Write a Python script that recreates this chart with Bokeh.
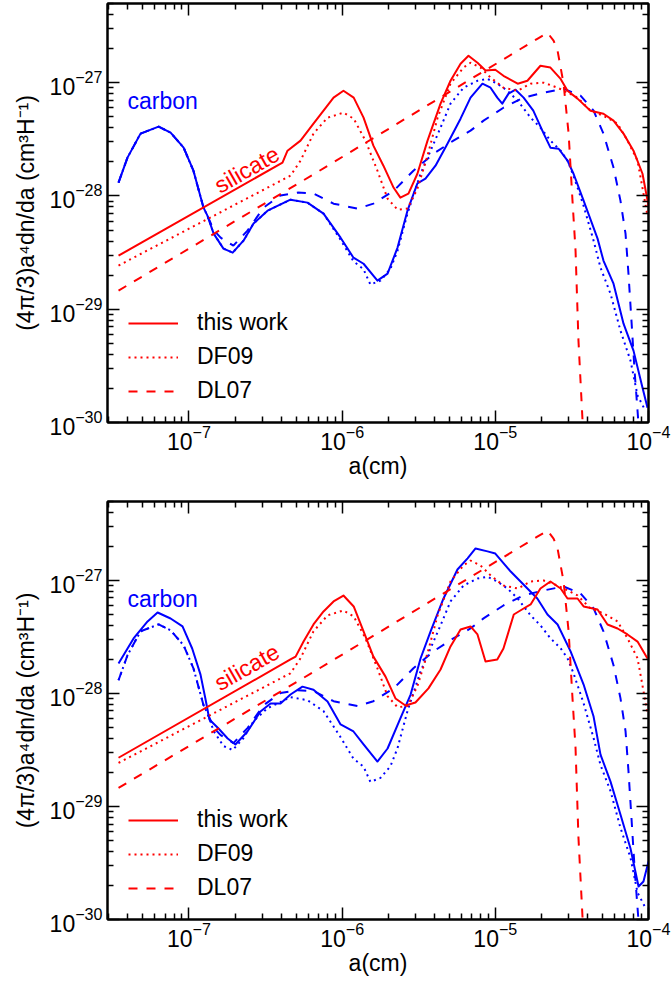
from bokeh.plotting import figure
from bokeh.layouts import column
from bokeh.models import (Range1d, LogAxis, FixedTicker, CustomJSTickFormatter,
                          Legend, LegendItem, Label)
from bokeh.embed import file_html
from bokeh.resources import INLINE

# ---------------- axis ticks ----------------
X_LO, X_HI = 2.94e-8, 1e-4
Y_LO, Y_HI = 1e-30, 5e-27
X_MAJOR = [1e-7, 1e-6, 1e-5, 1e-4]
X_MINOR = [k * 10.0 ** e for e in (-8, -7, -6, -5) for k in range(2, 10)
           if X_LO <= k * 10.0 ** e <= X_HI]
Y_MAJOR = [1e-30, 1e-29, 1e-28, 1e-27]
Y_MINOR = [k * 10.0 ** e for e in (-30, -29, -28, -27) for k in range(2, 10)
           if k * 10.0 ** e <= Y_HI]

LEGEND_LABELS = ["this work", "DF09", "DL07"]

# ---------------- DF09 (dotted), same in both panels ----------------
df09_car_a = [3.47e-8, 3.97e-8, 4.83e-8, 6.34e-8, 7.59e-8, 9.23e-8, 1.07e-7, 1.245e-7, 1.32e-7, 1.45e-7,
              1.68e-7, 1.93e-7, 2.27e-7, 2.64e-7, 3.26e-7, 4.60e-7, 5.94e-7, 7.56e-7, 9.77e-7, 1.186e-6,
              1.38e-6, 1.53e-6, 1.78e-6, 2.07e-6, 2.30e-6, 2.67e-6, 3.25e-6, 3.78e-6, 4.39e-6, 5.10e-6,
              6.20e-6, 7.65e-6, 8.89e-6, 1.03e-5, 1.20e-5, 1.40e-5, 1.70e-5, 1.97e-5, 2.29e-5, 2.67e-5,
              2.96e-5, 3.24e-5, 3.77e-5, 4.38e-5, 4.86e-5, 5.65e-5, 6.56e-5, 7.63e-5, 8.48e-5, 9.55e-5]
df09_car_y = [1.31e-28, 2.18e-28, 3.55e-28, 4.09e-28, 3.62e-28, 2.67e-28, 1.67e-28, 7.88e-29, 6.70e-29, 4.65e-29,
              3.43e-29, 3.16e-29, 4.03e-29, 5.70e-29, 7.41e-29, 9.27e-29, 8.73e-29, 6.98e-29, 4.10e-29, 2.65e-29,
              2.25e-29, 1.65e-29, 1.79e-29, 2.28e-29, 3.29e-29, 6.98e-29, 1.57e-28, 2.51e-28, 4.01e-28, 6.53e-28,
              9.03e-28, 1.04e-27, 1.08e-27, 9.80e-28, 8.49e-28, 6.93e-28, 4.91e-28, 4.01e-28, 3.08e-28, 2.51e-28,
              2.05e-28, 1.51e-28, 8.20e-29, 4.03e-29, 2.33e-29, 1.37e-29, 6.47e-30, 3.52e-30, 1.73e-30, 1.27e-30]

df09_sil_a = [3.47e-8, 4.60e-7, 5.35e-7, 6.50e-7, 8.03e-7, 1.02e-6, 1.19e-6, 1.42e-6, 1.70e-6, 1.98e-6,
              2.30e-6, 2.67e-6, 3.10e-6, 3.61e-6, 4.20e-6, 5.10e-6, 6.20e-6, 6.89e-6, 8.00e-6, 9.31e-6,
              1.13e-5, 1.40e-5, 1.70e-5, 2.07e-5, 2.55e-5, 2.96e-5, 3.44e-5, 4.18e-5, 5.08e-5, 6.28e-5,
              7.29e-5, 8.48e-5, 9.85e-5]
df09_sil_y = [2.43e-29, 1.51e-28, 2.05e-28, 3.55e-28, 4.91e-28, 5.43e-28, 4.81e-28, 3.08e-28, 1.67e-28, 9.46e-29,
              7.57e-29, 7.73e-29, 1.16e-28, 2.27e-28, 4.91e-28, 9.80e-28, 1.36e-27, 1.50e-27, 1.36e-27, 1.11e-27,
              9.03e-28, 8.49e-28, 9.80e-28, 1.0e-27, 9.03e-28, 8.17e-28, 7.38e-28, 5.66e-28, 5.11e-28, 4.35e-28,
              3.08e-28, 2.05e-28, 6.70e-29]

# ---------------- DL07 (dashed), same in both panels ----------------
dl07_car_a = [3.47e-8, 3.97e-8, 4.83e-8, 6.34e-8, 7.59e-8, 9.23e-8, 1.07e-7, 1.245e-7, 1.32e-7, 1.45e-7,
              1.61e-7, 1.95e-7, 2.41e-7, 3.07e-7, 3.96e-7, 5.12e-7, 6.50e-7, 8.79e-7, 1.26e-6, 1.60e-6,
              2.17e-6, 2.92e-6, 3.95e-6, 5.33e-6, 6.89e-6, 8.38e-6, 1.13e-5, 1.53e-5, 2.07e-5, 2.79e-5,
              3.60e-5, 4.38e-5, 5.08e-5, 5.91e-5, 6.56e-5, 7.08e-5, 7.40e-5, 7.74e-5, 8.11e-5, 8.48e-5, 8.7e-5]
dl07_car_y = [1.31e-28, 2.18e-28, 3.55e-28, 4.09e-28, 3.62e-28, 2.67e-28, 1.67e-28, 7.88e-29, 6.70e-29, 5.0e-29,
              4.28e-29, 3.64e-29, 4.94e-29, 7.88e-29, 1.01e-28, 1.07e-28, 1.05e-28, 8.55e-29, 7.73e-29, 8.55e-29,
              1.11e-28, 1.67e-28, 2.36e-28, 3.08e-28, 3.77e-28, 4.62e-28, 6.01e-28, 7.38e-28, 8.17e-28, 8.85e-28,
              7.68e-28, 5.66e-28, 3.55e-28, 1.78e-28, 9.10e-29, 4.65e-29, 2.06e-29, 7.94e-30, 2.87e-30, 1.27e-30, 8e-31]

dl07_sil_a = [3.47e-8, 6.50e-7, 1.88e-5, 2.19e-5, 2.40e-5, 2.55e-5, 2.79e-5, 3.01e-5, 3.19e-5, 3.34e-5,
              3.49e-5, 3.71e-5, 3.77e-5]
dl07_sil_y = [1.46e-29, 1.55e-28, 2.44e-27, 2.76e-27, 2.35e-27, 1.91e-27, 9.80e-28, 3.55e-28, 9.10e-29, 3.29e-29,
              5.28e-30, 1.04e-30, 7e-31]

# ---------------- this work, upper panel ----------------
top_car_a = [3.47e-8, 3.97e-8, 4.83e-8, 6.34e-8, 7.59e-8, 9.23e-8, 1.07e-7, 1.245e-7, 1.32e-7, 1.45e-7,
             1.68e-7, 1.93e-7, 2.27e-7, 2.64e-7, 3.26e-7, 4.60e-7, 5.94e-7, 7.56e-7, 9.77e-7, 1.186e-6,
             1.38e-6, 1.70e-6, 1.98e-6, 2.30e-6, 2.67e-6, 3.10e-6, 3.50e-6, 4.07e-6, 4.88e-6, 5.93e-6,
             6.89e-6, 8.24e-6, 9.31e-6, 1.03e-5, 1.11e-5, 1.22e-5, 1.355e-5, 1.53e-5, 1.77e-5, 2.07e-5,
             2.29e-5, 2.59e-5, 2.96e-5, 3.24e-5, 3.77e-5, 4.65e-5, 5.08e-5, 5.91e-5, 6.87e-5, 7.98e-5,
             9.14e-5, 9.85e-5]
top_car_y = [1.31e-28, 2.18e-28, 3.55e-28, 4.09e-28, 3.62e-28, 2.67e-28, 1.67e-28, 7.88e-29, 6.70e-29, 4.65e-29,
             3.43e-29, 3.16e-29, 4.03e-29, 5.70e-29, 7.41e-29, 9.27e-29, 8.73e-29, 6.98e-29, 4.28e-29, 2.85e-29,
             2.52e-29, 1.79e-29, 2.06e-29, 3.50e-29, 7.41e-29, 1.29e-28, 1.42e-28, 1.85e-28, 2.90e-28, 4.81e-28,
             7.38e-28, 9.80e-28, 9.03e-28, 7.38e-28, 6.53e-28, 8.00e-28, 8.67e-28, 7.38e-28, 5.66e-28, 3.55e-28,
             2.67e-28, 2.61e-28, 2.05e-28, 1.57e-28, 9.10e-29, 4.20e-29, 2.69e-29, 1.68e-29, 7.46e-30, 4.31e-30,
             2.03e-30, 1.35e-30]

top_sil_a = [3.47e-8, 4.08e-7, 4.40e-7, 5.35e-7, 6.50e-7, 7.56e-7, 8.79e-7, 1.02e-6, 1.19e-6, 1.38e-6,
             1.60e-6, 1.86e-6, 2.17e-6, 2.40e-6, 2.71e-6, 3.10e-6, 3.61e-6, 4.39e-6, 5.10e-6, 5.93e-6,
             6.68e-6, 7.65e-6, 8.63e-6, 1.00e-5, 1.13e-5, 1.40e-5, 1.62e-5, 1.97e-5, 2.29e-5, 2.67e-5,
             2.96e-5, 3.44e-5, 4.18e-5, 5.08e-5, 5.91e-5, 6.87e-5, 7.98e-5, 9.14e-5, 1.0e-4]
top_sil_y = [2.97e-29, 1.97e-28, 2.51e-28, 3.08e-28, 4.35e-28, 5.66e-28, 7.38e-28, 8.49e-28, 7.38e-28, 4.91e-28,
             2.78e-28, 1.85e-28, 1.18e-28, 9.66e-29, 1.05e-28, 1.57e-28, 3.08e-28, 6.53e-28, 1.04e-27, 1.47e-27,
             1.73e-27, 1.50e-27, 1.28e-27, 1.30e-27, 1.15e-27, 9.80e-28, 1.04e-27, 1.41e-27, 1.36e-27, 1.08e-27,
             8.49e-28, 7.23e-28, 5.66e-28, 5.32e-28, 4.62e-28, 3.55e-28, 2.51e-28, 1.57e-28, 8.20e-29]

# ---------------- this work, lower panel ----------------
bot_car_a = [3.47e-8, 4.35e-8, 5.37e-8, 6.24e-8, 7.59e-8, 9.08e-8, 1.05e-7, 1.19e-7, 1.28e-7, 1.36e-7,
             1.56e-7, 1.79e-7, 2.01e-7, 2.41e-7, 2.93e-7, 3.41e-7, 3.96e-7, 4.60e-7, 5.51e-7, 6.50e-7,
             8.03e-7, 9.77e-7, 1.186e-6, 1.38e-6, 1.70e-6, 1.98e-6, 2.40e-6, 2.80e-6, 3.25e-6, 3.78e-6,
             4.59e-6, 5.66e-6, 6.59e-6, 7.43e-6, 8.89e-6, 1.00e-5, 1.26e-5, 1.62e-5, 1.88e-5, 2.19e-5,
             2.55e-5, 3.10e-5, 3.77e-5, 4.38e-5, 4.86e-5, 5.65e-5, 6.56e-5, 7.63e-5, 8.61e-5, 9.27e-5, 1.0e-4]
bot_car_y = [1.84e-28, 3.07e-28, 4.34e-28, 5.21e-28, 4.61e-28, 3.92e-28, 2.50e-28, 1.47e-28, 9.04e-29, 5.89e-29,
             4.90e-29, 4.00e-29, 3.54e-29, 4.61e-29, 6.93e-29, 8.16e-29, 8.16e-29, 9.79e-29, 1.15e-28, 1.08e-28,
             8.49e-29, 5.32e-29, 4.61e-29, 3.54e-29, 2.50e-29, 3.26e-29, 6.01e-29, 9.79e-29, 2.04e-28, 3.54e-28,
             6.93e-28, 1.25e-27, 1.57e-27, 1.92e-27, 1.81e-27, 1.73e-27, 1.20e-27, 8.49e-28, 6.93e-28, 5.00e-28,
             4.08e-28, 2.36e-28, 1.20e-28, 6.25e-29, 2.88e-29, 1.66e-29, 8.49e-30, 4.25e-30, 1.96e-30, 2.17e-30, 3.26e-30]

bot_sil_a = [3.47e-8, 4.60e-7, 4.97e-7, 5.60e-7, 6.50e-7, 7.56e-7, 8.79e-7, 1.02e-6, 1.19e-6, 1.38e-6,
             1.60e-6, 1.92e-6, 2.23e-6, 2.59e-6, 3.01e-6, 3.66e-6, 4.39e-6, 5.10e-6, 5.93e-6, 6.89e-6,
             7.65e-6, 8.63e-6, 1.03e-5, 1.13e-5, 1.32e-5, 1.53e-5, 1.70e-5, 1.97e-5, 2.29e-5, 2.67e-5,
             2.96e-5, 3.44e-5, 3.77e-5, 4.65e-5, 5.40e-5, 6.28e-5, 7.29e-5, 8.48e-5, 9.85e-5]
bot_sil_y = [2.7e-29, 2.00e-28, 2.12e-28, 2.88e-28, 4.08e-28, 5.32e-28, 6.52e-28, 7.36e-28, 5.89e-28, 3.54e-28,
             2.12e-28, 1.41e-28, 9.04e-29, 7.83e-29, 8.32e-29, 1.11e-28, 1.63e-28, 2.61e-28, 3.68e-28, 3.92e-28,
             3.33e-28, 1.92e-28, 2.00e-28, 2.50e-28, 5.00e-28, 5.65e-28, 6.14e-28, 8.49e-28, 9.80e-28, 8.49e-28,
             6.93e-28, 6.93e-28, 5.89e-28, 5.53e-28, 4.08e-28, 3.76e-28, 3.33e-28, 2.88e-28, 2.04e-28]

# ---------------- styling ----------------
RED = "#ff0000"
BLUE = "#0000ff"
FONT = "Liberation Sans"
LW = 2
DOT = "2 4"
DASH = "9 9"


def style_axis(ax, major, minor, labels=True):
    ax.ticker = FixedTicker(ticks=major, minor_ticks=minor)
    ax.axis_line_color = "black"
    ax.axis_line_width = 2
    ax.major_tick_in = 12
    ax.major_tick_out = 0
    ax.minor_tick_in = 6
    ax.minor_tick_out = 0
    ax.major_tick_line_width = 1.5
    ax.minor_tick_line_width = 1.5
    ax.major_tick_line_color = "black"
    ax.minor_tick_line_color = "black"
    if labels:
        ax.major_label_text_font = FONT
        ax.major_label_text_font_size = "23px"
        ax.major_label_text_color = "black"
        ax.major_label_standoff = 4
    else:
        ax.formatter = CustomJSTickFormatter(code="return '';")
        ax.major_label_text_font_size = "1px"
        ax.major_label_standoff = 0


def panel(car_a, car_y, sil_a, sil_y, top_border, frame_h, bottom_border):
    p = figure(x_axis_type="log", y_axis_type="log",
               x_range=Range1d(X_LO, X_HI), y_range=Range1d(Y_LO, Y_HI),
               frame_width=541, frame_height=frame_h,
               min_border_left=107, min_border_right=23,
               min_border_top=top_border, min_border_bottom=bottom_border,
               output_backend="svg", toolbar_location=None)
    p.grid.visible = False
    p.outline_line_color = "black"
    p.outline_line_width = 2
    p.outline_line_alpha = 1.0

    style_axis(p.xaxis[0], X_MAJOR, X_MINOR)
    style_axis(p.yaxis[0], Y_MAJOR, Y_MINOR)
    p.xaxis[0].axis_label = "a(cm)"
    p.yaxis[0].axis_label = "(4\u03c0/3)a\u2074dn/da (cm\u00b3H\u207b\u00b9)"
    for ax in (p.xaxis[0], p.yaxis[0]):
        ax.axis_label_text_font = FONT
        ax.axis_label_text_font_size = "23px"
        ax.axis_label_text_font_style = "normal"
        ax.axis_label_text_color = "black"
    p.xaxis[0].axis_label_standoff = 0
    p.xaxis[0].major_label_standoff = 2
    p.yaxis[0].axis_label_standoff = 8
    p.yaxis[0].major_label_standoff = 5

    top_ax = LogAxis()
    style_axis(top_ax, X_MAJOR, X_MINOR, labels=False)
    p.add_layout(top_ax, "above")
    right_ax = LogAxis()
    style_axis(right_ax, Y_MAJOR, Y_MINOR, labels=False)
    p.add_layout(right_ax, "right")

    # carbon (blue)
    p.line(df09_car_a, df09_car_y, line_color=BLUE, line_width=LW, line_dash=DOT)
    p.line(dl07_car_a, dl07_car_y, line_color=BLUE, line_width=LW, line_dash=DASH)
    p.line(car_a, car_y, line_color=BLUE, line_width=LW, line_join="round")
    # silicate (red)
    r_dot = p.line(df09_sil_a, df09_sil_y, line_color=RED, line_width=LW, line_dash=DOT)
    r_dash = p.line(dl07_sil_a, dl07_sil_y, line_color=RED, line_width=LW, line_dash=DASH)
    r_sol = p.line(sil_a, sil_y, line_color=RED, line_width=LW, line_join="round")

    legend = Legend(items=[LegendItem(label=LEGEND_LABELS[0], renderers=[r_sol]),
                           LegendItem(label=LEGEND_LABELS[1], renderers=[r_dot]),
                           LegendItem(label=LEGEND_LABELS[2], renderers=[r_dash])],
                    location=(21, 18), orientation="vertical",
                    glyph_width=50, glyph_height=20, label_height=20,
                    label_standoff=19, spacing=7, padding=0, margin=0,
                    border_line_color=None, background_fill_alpha=0,
                    label_text_font=FONT, label_text_font_size="23px",
                    label_text_color="black")
    p.add_layout(legend)

    p.add_layout(Label(x=3.97e-8, y=6.9e-28, text="carbon", text_color=BLUE,
                       text_font=FONT, text_font_size="23px",
                       text_align="left", text_baseline="middle"))
    p.add_layout(Label(x=1.51e-7, y=1.2e-28, text="silicate", text_color=RED,
                       text_font=FONT, text_font_size="23px", angle=0.52,
                       text_align="left", text_baseline="alphabetic"))
    return p


p1 = panel(top_car_a, top_car_y, top_sil_a, top_sil_y, 3, 419, 57)
p2 = panel(bot_car_a, bot_car_y, bot_sil_a, bot_sil_y, 20, 418, 58)

layout = column(p1, p2, spacing=0)
open("out.html", "w").write(file_html(layout, INLINE))
